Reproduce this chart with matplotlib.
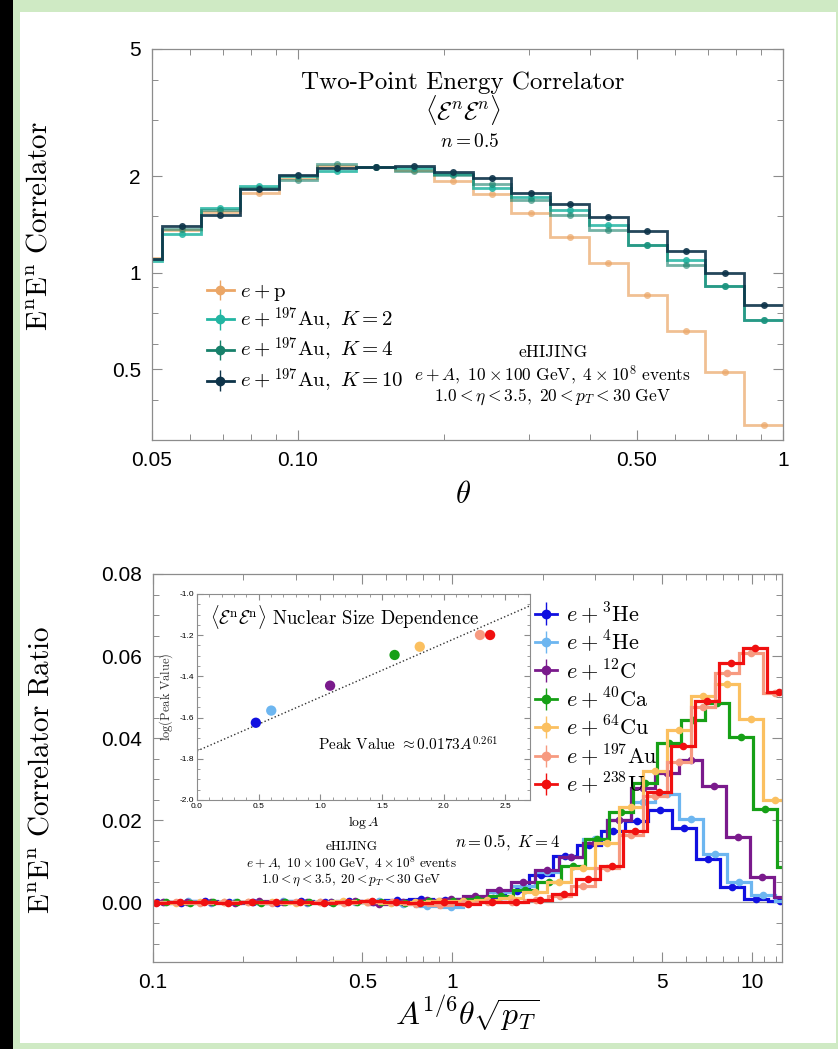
import numpy as np
import matplotlib.pyplot as plt
from matplotlib.patches import Rectangle
from matplotlib.ticker import FixedLocator, FixedFormatter, NullFormatter, MultipleLocator

plt.rcParams['mathtext.fontset'] = 'cm'
plt.rcParams['font.family'] = ['Liberation Sans', 'DejaVu Sans']
plt.rcParams['axes.unicode_minus'] = False

SERIF = 'cmr10'

# ---------------- upper panel: EEC vs theta ----------------
theta_edges = 10 ** (-1.36 + 0.08 * np.arange(18))
eec_ep = [1.11, 1.36, 1.55, 1.77, 1.97, 2.16, 2.14, 2.10, 1.93, 1.756, 1.54, 1.294,
          1.072, 0.849, 0.655, 0.49, 0.334]
eec_k2 = [1.085, 1.325, 1.596, 1.865, 2.00, 2.08, 2.14, 2.12, 2.03, 1.84, 1.72, 1.575,
          1.414, 1.224, 1.093, 0.906, 0.71]
eec_k4 = [1.10, 1.37, 1.57, 1.84, 1.955, 2.19, 2.14, 2.08, 2.02, 1.886, 1.69, 1.51,
          1.36, 1.224, 1.06, 0.906, 0.71]
eec_k10 = [1.10, 1.397, 1.513, 1.82, 2.016, 2.13, 2.14, 2.15, 2.07, 1.98, 1.77, 1.645,
           1.494, 1.347, 1.17, 1.00, 0.79]

top_series = [
    (eec_ep, '#EBA666', 0.7, r'$e+\mathrm{p}$'),
    (eec_k2, '#22B5A2', 0.85, r'$e+{}^{197}\mathrm{Au},\ K=2$'),
    (eec_k4, '#17806A', 0.6, r'$e+{}^{197}\mathrm{Au},\ K=4$'),
    (eec_k10, '#0D3349', 0.9, r'$e+{}^{197}\mathrm{Au},\ K=10$'),
]

# ---------------- lower panel: nuclear ratio vs A^{1/6} theta sqrt(pT) ----------------
mass_numbers = [3, 4, 12, 40, 64, 197, 238]
nuclei = ['He', 'He', 'C', 'Ca', 'Cu', 'Au', 'U']
ratio_colors = ['#1010E0', '#6DB6F0', '#7A1A8C', '#16A016', '#FBC060', '#F79A80', '#F01010']

ratio_he3 = [0.0002, -0.0002, 0.0003, 0.0000, 0.0002, -0.0001, 0.0003, 0.0002, 0.0004,
             0.0001, 0.0005, 0.0008, 0.0006, 0.0009, 0.0012, 0.0027, 0.0066, 0.0112,
             0.0141, 0.0175, 0.0198, 0.0224, 0.0181, 0.0105, 0.0038, 0.0008, 0.0003]
ratio_he4 = [0.0001, 0.0003, -0.0002, 0.0002, 0.0001, 0.0003, -0.0001, 0.0002, 0.0000,
             0.0003, -0.0004, -0.0008, -0.0012, 0.0005, 0.0025, 0.0040, 0.0075, 0.0110,
             0.0155, 0.0200, 0.0245, 0.0263, 0.0204, 0.0119, 0.0049, 0.0017, 0.0003]
ratio_c12 = [0.0000, 0.0002, 0.0001, -0.0001, 0.0003, 0.0001, 0.0002, 0.0000, 0.0004,
             -0.0003, 0.0002, 0.0006, 0.0008, 0.0015, 0.0030, 0.0050, 0.0080, 0.0110,
             0.0145, 0.0200, 0.0278, 0.0315, 0.0346, 0.0283, 0.0159, 0.0062, 0.0013]
ratio_ca40 = [0.0000, 0.0001, -0.0002, 0.0002, 0.0000, -0.0001, 0.0002, 0.0001, -0.0002,
              0.0000, 0.0002, -0.0001, 0.0003, 0.0004, 0.0008, 0.0015, 0.0030, 0.0050,
              0.0090, 0.0155, 0.0220, 0.0290, 0.0388, 0.0445, 0.0485, 0.0402, 0.0227,
              0.0086]
ratio_cu64 = [0.0001, -0.0001, 0.0002, 0.0000, 0.0001, 0.0002, -0.0002, 0.0001, 0.0003,
              0.0000, -0.0002, 0.0002, 0.0004, 0.0003, 0.0006, 0.0010, 0.0025, 0.0050,
              0.0085, 0.0145, 0.0232, 0.0320, 0.0420, 0.0502, 0.0533, 0.0447, 0.0250]
ratio_au197 = [0.0000, 0.0002, -0.0001, 0.0001, 0.0000, -0.0002, 0.0001, 0.0002, -0.0001,
               0.0001, 0.0000, -0.0003, -0.0005, -0.0002, 0.0000, 0.0000, 0.0005, 0.0015,
               0.0040, 0.0085, 0.0165, 0.0260, 0.0342, 0.0476, 0.0558, 0.0608, 0.0510]
ratio_u238 = [-0.0001, 0.0001, 0.0002, -0.0002, 0.0001, 0.0000, 0.0002, -0.0001, 0.0001,
              0.0003, 0.0001, -0.0002, 0.0000, -0.0003, 0.0001, 0.0002, 0.0007, 0.0020,
              0.0057, 0.0090, 0.0174, 0.0270, 0.0380, 0.0490, 0.0583, 0.0619, 0.0512]
ratio_values = [ratio_he3, ratio_he4, ratio_c12, ratio_ca40, ratio_cu64, ratio_au197, ratio_u238]

# inset: peak height vs nuclear size
peak_log_value = [-1.625, -1.566, -1.445, -1.296, -1.256, -1.199, -1.199]
fit_norm, fit_power = 0.0173, 0.261

BIN_BASE, BIN_DLOG = 0.015, 0.08


def ratio_edges(A, nbins):
    # common log(theta sqrt(pT)) binning, shifted by A^{1/6}
    shift = np.log10(A) / 6.0
    k0 = np.floor((-1.0 - shift - BIN_BASE) / BIN_DLOG)
    return 10 ** (BIN_BASE + shift + BIN_DLOG * (k0 + np.arange(nbins + 1)))


def style_axes(ax):
    for s in ax.spines.values():
        s.set_color('#8c8c8c')
        s.set_linewidth(0.9)
    ax.tick_params(which='both', direction='in', top=True, right=True, color='#8c8c8c')
    ax.tick_params(which='major', length=7, width=0.8, labelsize=15, pad=8)
    ax.tick_params(which='minor', length=4, width=0.7)


W, H = 838, 1049
fig = plt.figure(figsize=(W / 100, H / 100), dpi=100)
fig.patch.set_facecolor('#CFEAC4')
fig.patches.append(Rectangle((20 / W, 1 - 1043 / H), (836 - 20) / W, (1043 - 12) / H,
                             transform=fig.transFigure, facecolor='white', edgecolor='none',
                             zorder=-10))
fig.patches.append(Rectangle((0, 0), 13 / W, 1, transform=fig.transFigure,
                             facecolor='black', edgecolor='none', zorder=-10))


def fx(px):
    return px / W


def fy(py):
    return 1 - py / H


# ---- upper panel ----
ax1 = fig.add_axes([fx(152), fy(440), fx(783) - fx(152), fy(49) - fy(440)])
centers = np.sqrt(theta_edges[:-1] * theta_edges[1:])
handles = []
for vals, col, alpha, lab in top_series:
    ax1.stairs(vals, theta_edges, color=col, alpha=alpha, lw=2.0, baseline=None)
    ax1.plot(centers, vals, 'o', color=col, alpha=alpha, ms=5, mec='none')
    h = ax1.errorbar([], [], yerr=[], fmt='-o', color=col, lw=2.0, ms=6, capsize=3,
                     elinewidth=1.0, label=lab)
    handles.append(h)
ax1.set_xscale('log')
ax1.set_yscale('log')
ax1.set_xlim(0.05, 1.0)
ax1.set_ylim(0.3, 5)
ax1.xaxis.set_major_locator(FixedLocator([0.05, 0.1, 0.5, 1.0]))
ax1.xaxis.set_major_formatter(FixedFormatter(['0.05', '0.10', '0.50', '1']))
ax1.xaxis.set_minor_locator(FixedLocator([0.06, 0.07, 0.08, 0.09, 0.2, 0.3, 0.4, 0.6, 0.7, 0.8, 0.9]))
ax1.xaxis.set_minor_formatter(NullFormatter())
ax1.yaxis.set_major_locator(FixedLocator([0.5, 1, 2, 5]))
ax1.yaxis.set_major_formatter(FixedFormatter(['0.5', '1', '2', '5']))
ax1.yaxis.set_minor_locator(FixedLocator([0.3, 0.4, 0.6, 0.75, 0.9, 1.5, 3, 4]))
ax1.yaxis.set_minor_formatter(NullFormatter())
style_axes(ax1)

ax1.legend(handles=handles, loc='upper left', bbox_to_anchor=(0.07, 0.43), frameon=False,
           fontsize=15, handlelength=1.3, handletextpad=0.3, labelspacing=0.12, borderpad=0)

ax1.text(0.493, 0.913, 'Two-Point Energy Correlator', transform=ax1.transAxes,
         ha='center', va='center', fontsize=18, family=SERIF)
ax1.text(0.493, 0.844, r'$\langle\mathcal{E}^n\mathcal{E}^n\rangle$', transform=ax1.transAxes,
         ha='center', va='center', fontsize=18)
ax1.text(0.504, 0.762, r'$n=0.5$', transform=ax1.transAxes, ha='center', va='center', fontsize=14)
ax1.text(0.635, 0.225, 'eHIJING', transform=ax1.transAxes, ha='center', va='center',
         fontsize=12.5, family=SERIF)
ax1.text(0.635, 0.166, r'$e+A,\ 10\times100\ \mathrm{GeV},\ 4\times10^8\ \mathrm{events}$',
         transform=ax1.transAxes, ha='center', va='center', fontsize=12.5)
ax1.text(0.635, 0.110, r'$1.0<\eta<3.5,\ 20<p_T<30\ \mathrm{GeV}$',
         transform=ax1.transAxes, ha='center', va='center', fontsize=12.5)
fig.text(fx(40), fy(226), r'$\mathrm{E^nE^n\ Correlator}$', rotation=90,
         ha='center', va='center', fontsize=21)
fig.text(fx(463), fy(495), r'$\theta$', ha='center', va='center', fontsize=22)

# ---- lower panel ----
ax2 = fig.add_axes([fx(153), fy(962), fx(782) - fx(153), fy(574) - fy(962)])
ax2.axhline(0, color='#9a9a9a', lw=0.9, zorder=1)
handles2 = []
for A, nuc, vals, col in zip(mass_numbers, nuclei, ratio_values, ratio_colors):
    edges = ratio_edges(A, len(vals))
    mids = np.sqrt(edges[:-1] * edges[1:])
    ax2.stairs(vals, edges, color=col, lw=2.3, baseline=None, zorder=2)
    ax2.plot(mids, vals, 'o', color=col, ms=5.5, mec='none', zorder=2)
    lab = r'$e+{}^{%d}\mathrm{%s}$' % (A, nuc)
    h = ax2.errorbar([], [], yerr=[], fmt='-o', color=col, lw=2.0, ms=6, capsize=3,
                     elinewidth=1.0, label=lab)
    handles2.append(h)
ax2.set_xscale('log')
ax2.set_xlim(0.1, 12.6)
ax2.set_ylim(-0.0145, 0.08)
ax2.xaxis.set_major_locator(FixedLocator([0.1, 0.5, 1, 5, 10]))
ax2.xaxis.set_major_formatter(FixedFormatter(['0.1', '0.5', '1', '5', '10']))
ax2.xaxis.set_minor_locator(FixedLocator([0.2, 0.3, 0.4, 0.6, 0.7, 0.8, 0.9, 2, 3, 4,
                                          6, 7, 8, 9, 11, 12]))
ax2.xaxis.set_minor_formatter(NullFormatter())
ax2.set_yticks([0.0, 0.02, 0.04, 0.06, 0.08])
ax2.set_yticklabels(['0.00', '0.02', '0.04', '0.06', '0.08'])
ax2.yaxis.set_minor_locator(MultipleLocator(0.005))
style_axes(ax2)

ax2.legend(handles=handles2, loc='upper left', bbox_to_anchor=(0.59, 0.96), frameon=False,
           fontsize=16, handlelength=1.0, handletextpad=0.4, labelspacing=0.12, borderpad=0)

ax2.text(0.564, 0.309, r'$n=0.5,\ K=4$', transform=ax2.transAxes, ha='center', va='center',
         fontsize=12)
ax2.text(0.316, 0.296, 'eHIJING', transform=ax2.transAxes, ha='center', va='center',
         fontsize=9.5, family=SERIF)
ax2.text(0.316, 0.255, r'$e+A,\ 10\times100\ \mathrm{GeV},\ 4\times10^8\ \mathrm{events}$',
         transform=ax2.transAxes, ha='center', va='center', fontsize=9.5)
ax2.text(0.316, 0.211, r'$1.0<\eta<3.5,\ 20<p_T<30\ \mathrm{GeV}$',
         transform=ax2.transAxes, ha='center', va='center', fontsize=9.5)
fig.text(fx(42), fy(770), r'$\mathrm{E^nE^n\ Correlator\ Ratio}$', rotation=90,
         ha='center', va='center', fontsize=21)
fig.text(fx(467), fy(1013), r'$A^{1/6}\theta\sqrt{p_T}$', ha='center', va='center', fontsize=23)

# ---- inset ----
ax3 = fig.add_axes([fx(197), fy(800), fx(530) - fx(197), fy(594) - fy(800)])
logA = np.log10(mass_numbers)
xfit = np.linspace(0, 2.7, 2)
ax3.plot(xfit, np.log10(fit_norm) + fit_power * xfit, ':', color='#333333', lw=1.0)
ax3.scatter(logA, peak_log_value, c=ratio_colors, s=55, zorder=3, edgecolors='none')
ax3.set_xlim(0, 2.7)
ax3.set_ylim(-2.0, -1.0)
ax3.xaxis.set_major_locator(MultipleLocator(0.5))
ax3.xaxis.set_minor_locator(MultipleLocator(0.1))
ax3.yaxis.set_major_locator(MultipleLocator(0.2))
ax3.yaxis.set_minor_locator(MultipleLocator(0.05))
ax3.xaxis.set_major_formatter(plt.FuncFormatter(lambda v, p: '%.1f' % v))
ax3.yaxis.set_major_formatter(plt.FuncFormatter(lambda v, p: '%.1f' % v))
for s in ax3.spines.values():
    s.set_color('#8c8c8c')
    s.set_linewidth(0.8)
ax3.tick_params(which='both', direction='in', top=True, right=True, color='#8c8c8c',
                labelsize=6, pad=2)
ax3.tick_params(which='major', length=4)
ax3.tick_params(which='minor', length=2)
ax3.set_xlabel(r'$\log A$', fontsize=10, labelpad=3)
ax3.set_ylabel(r'$\log(\mathrm{Peak\ Value})$', fontsize=9, labelpad=3, color='#333333')
ax3.text(0.039, 0.888, r'$\langle\mathcal{E}^\mathrm{n}\mathcal{E}^\mathrm{n}\rangle$ Nuclear Size Dependence',
         transform=ax3.transAxes, ha='left', va='center', fontsize=13.5, family=SERIF)
ax3.text(0.363, 0.267, r'Peak Value $\approx 0.0173A^{0.261}$', transform=ax3.transAxes,
         ha='left', va='center', fontsize=11, family=SERIF)

fig.savefig('out.png', dpi=100)
